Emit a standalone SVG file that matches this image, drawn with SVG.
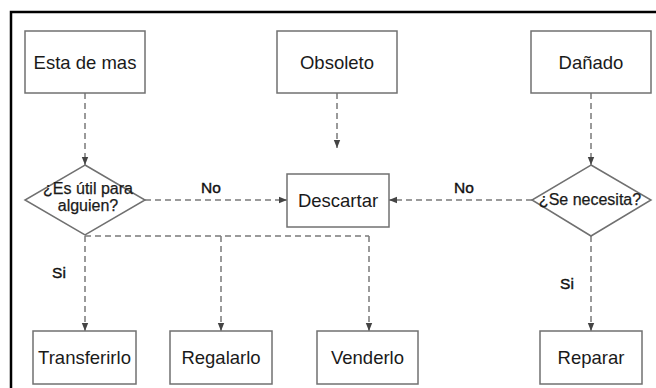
<svg xmlns="http://www.w3.org/2000/svg" width="656" height="388" viewBox="0 0 656 388">
<style>
.box{fill:#fff;stroke:#707070;stroke-width:1.5}
.t{font-family:"Liberation Sans",Arial,sans-serif;font-size:18.5px;fill:#1a1a1a;text-anchor:middle}
.d{font-family:"Liberation Sans",Arial,sans-serif;font-size:16px;fill:#1a1a1a;stroke:#1a1a1a;stroke-width:0.25;text-anchor:middle}
.l{font-family:"Liberation Sans",Arial,sans-serif;font-size:15.5px;fill:#111;stroke:#111;stroke-width:0.4;text-anchor:middle}
.c{fill:none;stroke:#7a7a7a;stroke-width:1.5;stroke-dasharray:6 4}
</style>
<defs>
<marker id="ah" viewBox="0 0 8 8" refX="8" refY="4" markerWidth="8" markerHeight="8" markerUnits="userSpaceOnUse" orient="auto">
<path d="M0,0.8 L8,4 L0,7.2 Z" fill="#444"/>
</marker>
</defs>
<rect width="656" height="388" fill="#fff"/>
<path d="M11,388 V12 H656" fill="none" stroke="#000" stroke-width="2.5"/>
<g id="connectors">
<path class="c" d="M85,93 V165" marker-end="url(#ah)"/>
<path class="c" d="M337,93 V148" marker-end="url(#ah)"/>
<path class="c" d="M591,93 V165" marker-end="url(#ah)"/>
<path class="c" d="M145,200 H287" marker-end="url(#ah)"/>
<path class="c" d="M532,200 H389" marker-end="url(#ah)"/>
<path class="c" d="M85,236 H369"/>
<path class="c" d="M85,236 V331" marker-end="url(#ah)"/>
<path class="c" d="M221,236 V331" marker-end="url(#ah)"/>
<path class="c" d="M369,236 V331" marker-end="url(#ah)"/>
<path class="c" d="M591,236 V331" marker-end="url(#ah)"/>
<text class="l" x="211" y="193">No</text>
<text class="l" x="464" y="193">No</text>
<text class="l" x="59" y="278">Si</text>
<text class="l" x="567" y="289">Si</text>
</g>
<g id="esta"><rect class="box" x="25" y="31" width="120" height="62"/><text class="t" x="85" y="68.5">Esta de mas</text></g>
<g id="obsoleto"><rect class="box" x="277" y="31" width="120" height="62"/><text class="t" x="337" y="68.5">Obsoleto</text></g>
<g id="danado"><rect class="box" x="531" y="31" width="120" height="62"/><text class="t" x="591" y="68.5">Dañado</text></g>
<g id="util"><polygon class="box" points="85,165 145,200 85,235 25,200"/><text class="d" x="88" y="194">¿Es útil para</text><text class="d" x="88" y="211">alguien?</text></g>
<g id="descartar"><rect class="box" x="287" y="174" width="102" height="53"/><text class="t" x="338" y="207">Descartar</text></g>
<g id="necesita"><polygon class="box" points="591,165 651,200 591,236 532,200"/><text class="d" x="590" y="205">¿Se necesita?</text></g>
<g id="transferirlo"><rect class="box" x="33" y="331" width="103" height="53"/><text class="t" x="84.5" y="364">Transferirlo</text></g>
<g id="regalarlo"><rect class="box" x="170" y="331" width="102" height="53"/><text class="t" x="221" y="364">Regalarlo</text></g>
<g id="venderlo"><rect class="box" x="317" y="331" width="101" height="53"/><text class="t" x="367.5" y="364">Venderlo</text></g>
<g id="reparar"><rect class="box" x="540" y="331" width="102" height="53"/><text class="t" x="591" y="364">Reparar</text></g>
</svg>
